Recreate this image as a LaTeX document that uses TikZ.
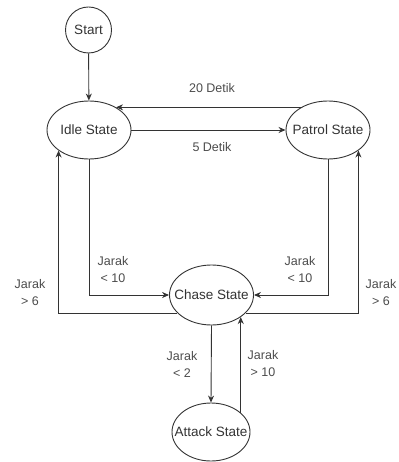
\documentclass[tikz,border=0pt]{standalone}
\usepackage{fontspec}
\setmainfont{Liberation Sans}
\usetikzlibrary{shapes.geometric,arrows.meta}
\tikzset{
  stnode/.style={draw=black!80, line width=0.9pt, ellipse, inner sep=0pt,
    label={[font=\fontsize{13.5}{15}\selectfont, text=black!80, inner sep=0pt]center:#1}},
  arr/.style={draw=black!80, line width=0.9pt, -{Stealth[length=7pt,width=6pt]}},
  lbl/.style={align=center, font=\fontsize{12.5}{17}\selectfont, text=black!70, inner sep=0pt}
}
\begin{document}
\begin{tikzpicture}[x=1pt,y=-1pt]
\useasboundingbox (0,0) rectangle (398,462);
\node[stnode=Start, circle, minimum size=46pt] (start) at (88.5,30) {};
\node[stnode=Idle State, minimum width=84pt, minimum height=58pt] (idle) at (89,130) {};
\node[stnode=Patrol State, minimum width=84pt, minimum height=58pt] (patrol) at (328,130) {};
\node[stnode=Chase State, minimum width=84pt, minimum height=60pt] (chase) at (211.5,295) {};
\node[stnode=Attack State, minimum width=78pt, minimum height=58pt] (attack) at (211,432) {};

\draw[arr] (start) -- (idle);
\draw[arr] (patrol.140) -- (idle.40);
\draw[arr] (idle.east) -- (patrol.west);
\draw[arr] (idle.south) |- (chase.west);
\draw[arr] (patrol.south) |- (chase.east);
\draw[arr] (chase.208.2) -| (idle.214.7);
\draw[arr] (chase.-28.2) -| (patrol.-34.7);
\draw[arr] (chase.south) -- (attack.north);
\draw[arr] (attack.33.8) -- (attack.33.8 |- chase.-37.7);

\node[lbl] (l20) at (212,88) {20 Detik};
\node[lbl] (l5) at (212,147) {5 Detik};
\node[lbl] (lj1) at (113,270) {Jarak\\\textless\ 10};
\node[lbl] (lj2) at (300,270) {Jarak\\\textless\ 10};
\node[lbl] (lj3) at (30,293) {Jarak\\\textgreater\ 6};
\node[lbl] (lj4) at (381,293) {Jarak\\\textgreater\ 6};
\node[lbl] (lj5) at (182,364) {Jarak\\\textless\ 2};
\node[lbl] (lj6) at (263,364) {Jarak\\\textgreater\ 10};
\end{tikzpicture}
\end{document}
